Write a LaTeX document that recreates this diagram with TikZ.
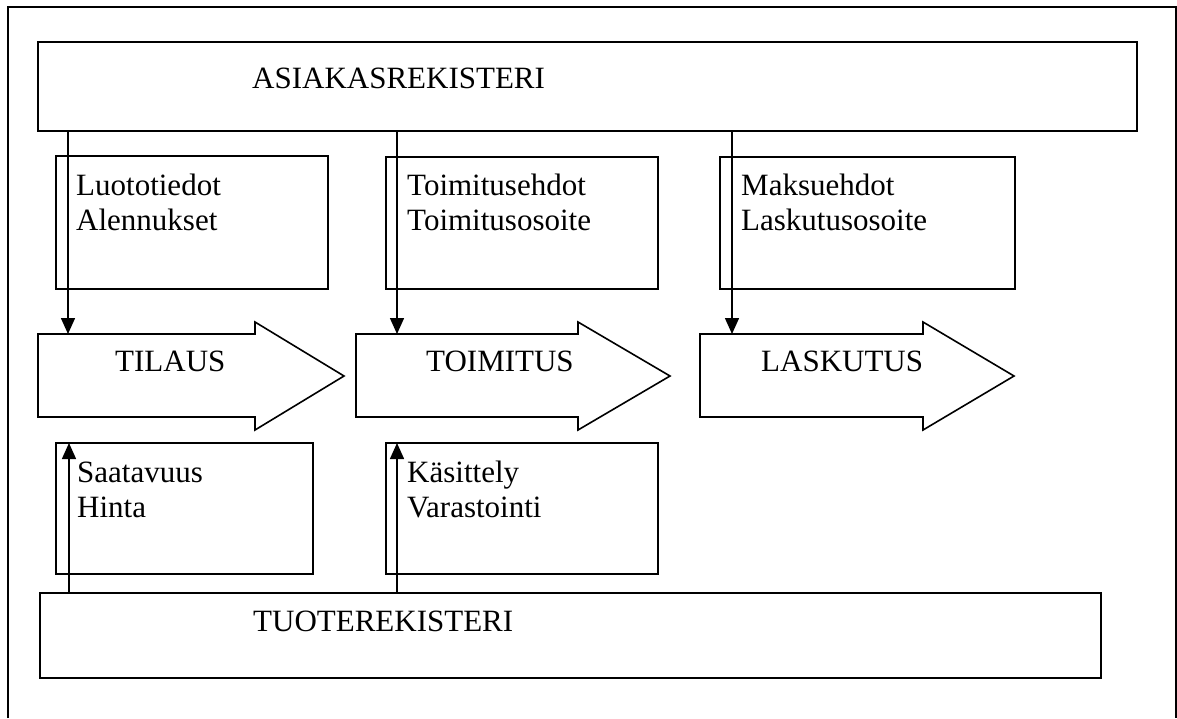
\documentclass[tikz,border=0pt]{standalone}
\usepackage{fontspec}
\setmainfont{Liberation Serif}
\usetikzlibrary{arrows.meta}
\begin{document}
\begin{tikzpicture}[x=1pt,y=-1pt,
  every node/.style={font=\fontsize{31}{35}\selectfont},
  frameline/.style={line width=2pt},
  regbox/.style={draw,line width=1.8pt,anchor=north west,inner sep=0pt,outer sep=0pt},
  infobox/.style={draw,line width=1.6pt,anchor=north west,inner sep=0pt,outer sep=0pt},
  blockarrow/.style={draw,line width=1.6pt,line join=miter},
  label/.style={anchor=base west,inner sep=0pt},
  twoline/.style={anchor=base west,inner sep=0pt,align=left},
  link/.style={line width=1.5pt,-{Triangle[length=16pt,width=14pt]}}
]
\useasboundingbox (0,0) rectangle (1177,718);

% outer frame, open at the bottom
\draw[frameline] (8,718) -- (8,7) -- (1176,7) -- (1176,718);

% registers
\node[regbox,minimum width=1099pt,minimum height=89pt] (asiakas) at (38,42) {};
\node[label] (asiakasT) at (252,88) {ASIAKASREKISTERI};
\node[regbox,minimum width=1061pt,minimum height=85pt] (tuote) at (40,593) {};
\node[label] (tuoteT) at (253,631) {TUOTEREKISTERI};

% information boxes above the process (text anchored on its last line)
\node[infobox,minimum width=272pt,minimum height=133pt] (luoto) at (56,156) {};
\node[infobox,minimum width=272pt,minimum height=132pt] (toimE) at (386,157) {};
\node[infobox,minimum width=295pt,minimum height=132pt] (maksu) at (720,157) {};
\node[twoline] (luotoT) at (76,230) {Luototiedot\\Alennukset};
\node[twoline] (toimET) at (407,230) {Toimitusehdot\\Toimitusosoite};
\node[twoline] (maksuT) at (741,230) {Maksuehdot\\Laskutusosoite};

% information boxes below the process
\node[infobox,minimum width=257pt,minimum height=131pt] (saat) at (56,443) {};
\node[infobox,minimum width=272pt,minimum height=131pt] (kasit) at (386,443) {};
\node[twoline] (saatT) at (77,517) {Saatavuus\\Hinta};
\node[twoline] (kasitT) at (407,517) {Käsittely\\Varastointi};

% process arrows
\draw[blockarrow] (38,334) -- (255,334) -- (255,322) -- (344,376) -- (255,430) -- (255,417) -- (38,417) -- cycle;
\draw[blockarrow] (356,334) -- (578,334) -- (578,322) -- (670,376) -- (578,430) -- (578,417) -- (356,417) -- cycle;
\draw[blockarrow] (700,334) -- (923,334) -- (923,322) -- (1014,376) -- (923,430) -- (923,417) -- (700,417) -- cycle;
\node[label] (tilausT) at (115,371) {TILAUS};
\node[label] (toimitusT) at (426,371) {TOIMITUS};
\node[label] (laskutusT) at (761,371) {LASKUTUS};

% arrow entry points
\coordinate (tilausIn) at (68,334);
\coordinate (toimitusIn) at (397,334);
\coordinate (laskutusIn) at (732,334);
\coordinate (saatIn) at (69,443);
\coordinate (kasitIn) at (397,443);

% customer register feeds each phase
\draw[link] (asiakas.south -| tilausIn) -- (tilausIn);
\draw[link] (asiakas.south -| toimitusIn) -- (toimitusIn);
\draw[link] (asiakas.south -| laskutusIn) -- (laskutusIn);

% product register feeds ordering and delivery
\draw[link] (tuote.north -| saatIn) -- (saatIn);
\draw[link] (tuote.north -| kasitIn) -- (kasitIn);
\end{tikzpicture}
\end{document}
